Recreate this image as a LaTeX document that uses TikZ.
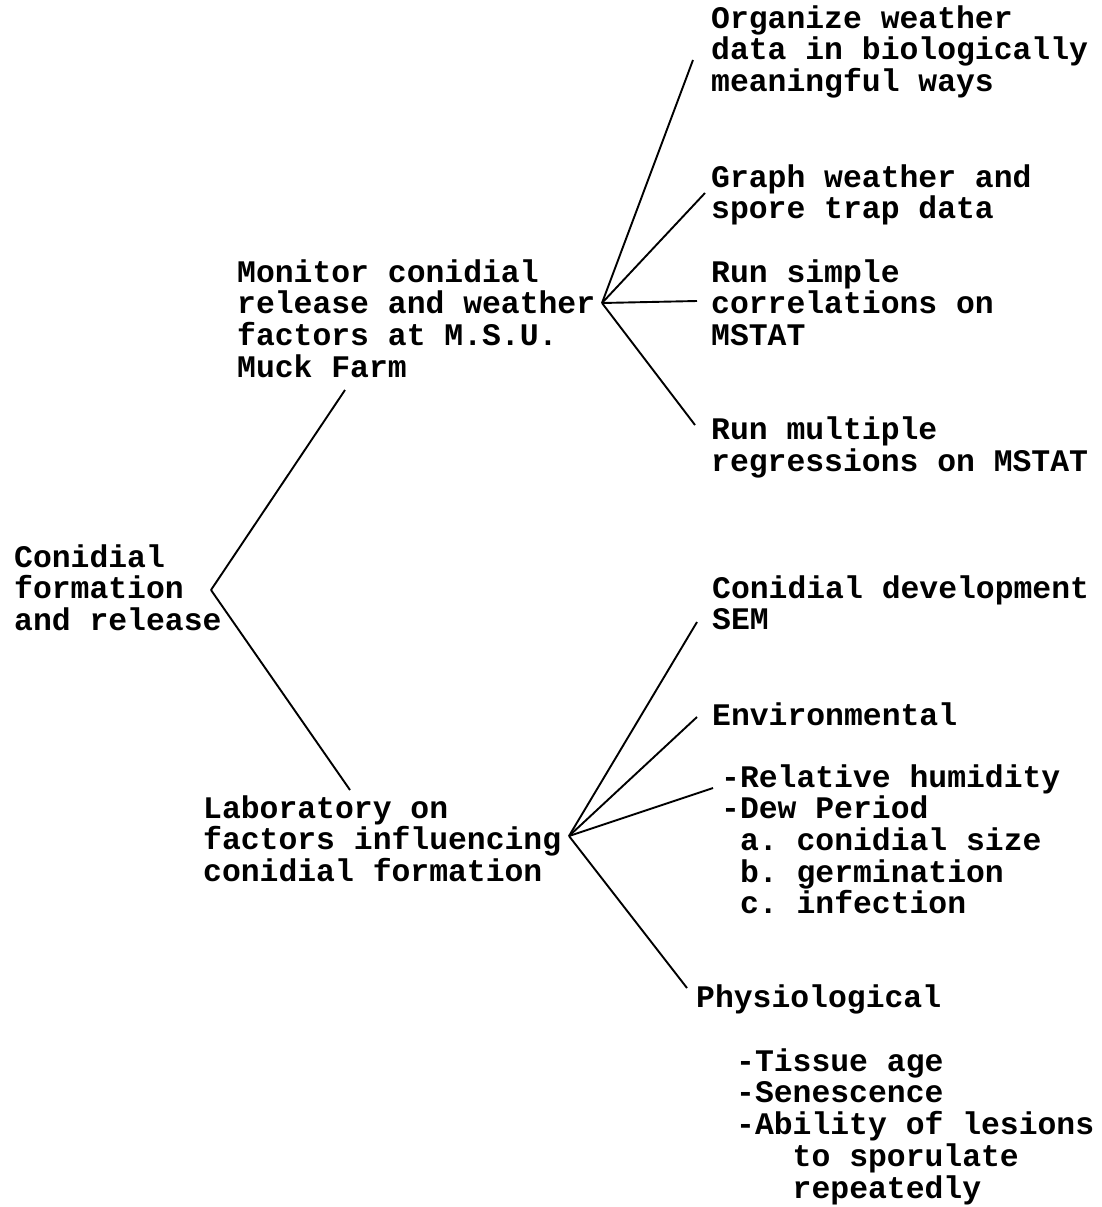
\documentclass[tikz,border=0pt]{standalone}
\usepackage{fontspec}
\setmainfont{Liberation Mono}
\frenchspacing
\begin{document}
\begin{tikzpicture}[x=1pt, y=-1pt,
    txt/.style={anchor=base west, inner sep=0pt, align=left,
      font=\fontsize{31.4}{31.7}\selectfont\bfseries},
    branch/.style={line width=1.9pt}]
  \useasboundingbox (0,0) rectangle (1102,1207);
  % texts (placed at the baseline of their last line)
  \node[txt] (root) at (14,630.4) {Conidial\\formation\\and release};
  \node[txt] (monitor) at (237,377.1) {Monitor conidial\\release and weather\\factors at M.S.U.\\Muck Farm};
  \node[txt] (lab) at (203,881.4) {Laboratory on\\factors influencing\\conidial formation};
  \node[txt] (organize) at (711,91.4) {Organize weather\\data in biologically\\meaningful ways};
  \node[txt] (graph) at (711,218.7) {Graph weather and\\spore trap data};
  \node[txt] (simple) at (711,345.4) {Run simple\\correlations on\\MSTAT};
  \node[txt] (multiple) at (711,471.5) {Run multiple\\regressions on MSTAT};
  \node[txt] (develop) at (712,629.7) {Conidial development\\SEM};
  \node[txt] (environ) at (712,725) {Environmental};
  \node[txt] (dew) at (721,913.8) {-Relative humidity\\-Dew Period\\\phantom{-}a. conidial size\\\phantom{-}b. germination\\\phantom{-}c. infection};
  \node[txt] (physio) at (696,1007) {Physiological};
  \node[txt] (tissue) at (736,1198) {-Tissue age\\-Senescence\\-Ability of lesions\\\phantom{-Ab}to sporulate\\\phantom{-Ab}repeatedly};
  % forks
  \coordinate (rootfork) at ([shift={(197,-40.4)}]root.base west);
  \coordinate (monfork) at ([shift={(365,-74.1)}]monitor.base west);
  \coordinate (labfork) at ([shift={(366,-45.4)}]lab.base west);
  % branches
  \draw[branch] (rootfork) -- ([shift={(108,12.9)}]monitor.base west);
  \draw[branch] (rootfork) -- ([shift={(147,-91.4)}]lab.base west);
  \draw[branch] (monfork) -- ([shift={(-18,-31.4)}]organize.base west);
  \draw[branch] (monfork) -- ([shift={(-6,-25.7)}]graph.base west);
  \draw[branch] (monfork) -- ([shift={(-14,-44.4)}]simple.base west);
  \draw[branch] (monfork) -- ([shift={(-16,-46.5)}]multiple.base west);
  \draw[branch] (labfork) -- ([shift={(-15,-7.7)}]develop.base west);
  \draw[branch] (labfork) -- ([shift={(-15,-8)}]environ.base west);
  \draw[branch] (labfork) -- ([shift={(-8,-125.8)}]dew.base west);
  \draw[branch] (labfork) -- ([shift={(-9,-19)}]physio.base west);
\end{tikzpicture}
\end{document}
